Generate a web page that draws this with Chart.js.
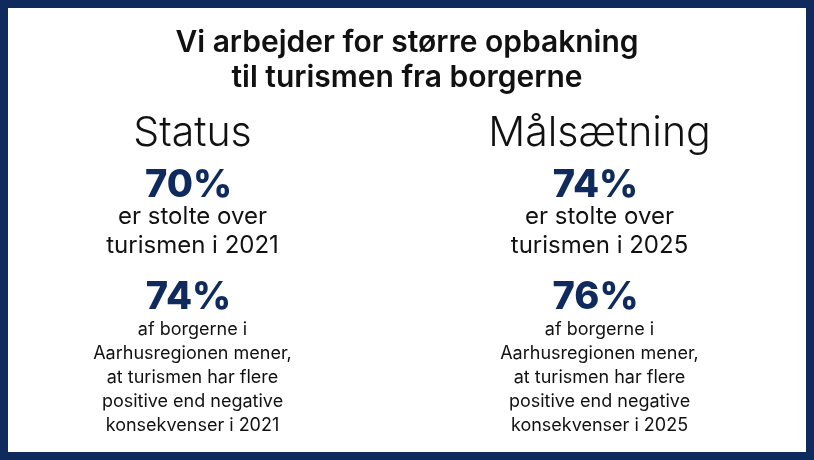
<!DOCTYPE html>
<html><head><meta charset="utf-8">
<script src="https://cdn.jsdelivr.net/npm/chart.js@4"></script>
<style>html,body{margin:0;padding:0;background:#fff}#wrap{width:814px;height:460px}</style>
</head><body><div id="wrap"><canvas id="c" width="814" height="460"></canvas></div>
<script>
const titleLines = ["Vi arbejder for større opbakning", "til turismen fra borgerne"];
const columns = ["Status", "Målsætning"];
const pridePct = [70, 74];
const prideText = [["er stolte over", "turismen i 2021"], ["er stolte over", "turismen i 2025"]];
const positivePct = [74, 76];
const positiveText = [
  ["af borgerne i", "Aarhusregionen mener,", "at turismen har flere", "positive end negative", "konsekvenser i 2021"],
  ["af borgerne i", "Aarhusregionen mener,", "at turismen har flere", "positive end negative", "konsekvenser i 2025"]
];
const NAVY = "#0f2a5c";
const FONT = "Inter, 'Open Sans', sans-serif";

const textPlugin = {
  id: "infographic",
  beforeDraw(chart) {
    const ctx = chart.ctx, W = chart.width, H = chart.height;
    ctx.save();
    ctx.fillStyle = NAVY; ctx.fillRect(0, 0, W, H);
    ctx.fillStyle = "#fff"; ctx.fillRect(8, 8, W - 16, H - 16);
    ctx.textAlign = "center"; ctx.textBaseline = "middle";
    ctx.fillStyle = "#111";
    ctx.font = "600 30px " + FONT;
    titleLines.forEach((t, i) => ctx.fillText(t, W / 2, 43 + i * 35));
    const xs = chart.scales.x;
    columns.forEach((col, i) => {
      const cx = xs.getPixelForValue(i) - 11;
      ctx.fillStyle = "#111";
      ctx.font = "300 41px " + FONT;
      ctx.fillText(col, cx, 134);
      ctx.fillStyle = NAVY;
      ctx.font = "800 38px " + FONT;
      ctx.fillText(pridePct[i] + "%", cx - 4, 186);
      ctx.fillStyle = "#111";
      ctx.font = "400 24px " + FONT;
      prideText[i].forEach((t, j) => ctx.fillText(t, cx, 217 + j * 29));
      ctx.fillStyle = NAVY;
      ctx.font = "800 38px " + FONT;
      ctx.fillText(positivePct[i] + "%", cx - 4, 298);
      ctx.fillStyle = "#111";
      ctx.font = "400 18px " + FONT;
      positiveText[i].forEach((t, j) => ctx.fillText(t, cx, 330 + j * 24));
    });
    ctx.restore();
  }
};

new Chart(document.getElementById("c"), {
  type: "bar",
  data: { labels: columns, datasets: [{ data: pridePct, backgroundColor: "rgba(0,0,0,0)" }] },
  options: {
    responsive: false, animation: false,
    plugins: { legend: { display: false }, tooltip: { enabled: false } },
    scales: {
      x: { display: false, min: 0, max: 1, offset: true },
      y: { display: false, min: 0, max: 100 }
    }
  },
  plugins: [textPlugin]
});
</script></body></html>
